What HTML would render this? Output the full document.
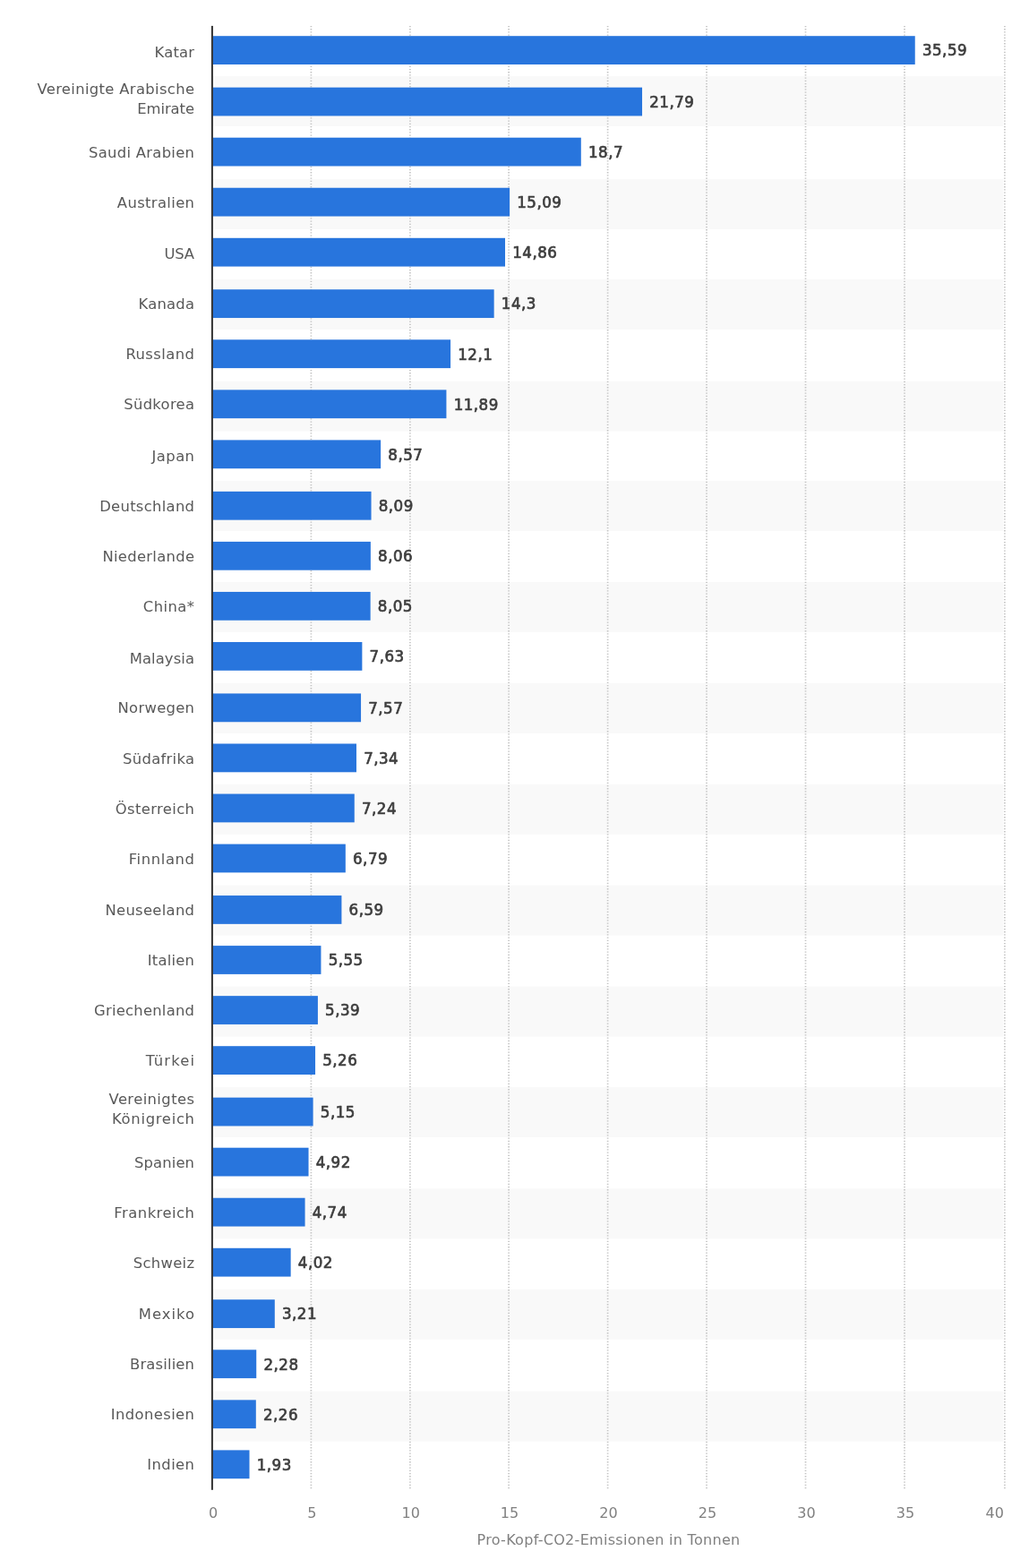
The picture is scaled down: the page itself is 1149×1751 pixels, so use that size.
<!DOCTYPE html>
<html lang="de">
<head>
<meta charset="utf-8">
<title>Pro-Kopf-CO2-Emissionen in Tonnen</title>
<style>
html,body{margin:0;padding:0;background:#fff;}
body{width:1149px;height:1751px;overflow:hidden;}
svg{display:block;position:absolute;left:0;top:0;}
.band{fill:#f9f9f9;}
.grid{stroke:#c4c4c4;stroke-width:1.7;stroke-dasharray:1.3 1.9;fill:none;}
.bar{fill:#2875dd;}
.axis{fill:#383838;}
.cat{font-family:"DejaVu Sans","Liberation Sans",sans-serif;font-size:16.4px;letter-spacing:0.3px;fill:#595959;text-anchor:end;}
.val{font-family:"DejaVu Sans Condensed","DejaVu Sans","Liberation Sans",sans-serif;font-size:18.5px;letter-spacing:0.5px;fill:#3e3e3e;stroke:#3e3e3e;stroke-width:0.7px;stroke-linejoin:round;text-anchor:start;}
.tick{font-family:"DejaVu Sans","Liberation Sans",sans-serif;font-size:16px;letter-spacing:0px;fill:#808080;text-anchor:middle;}
.title{font-family:"DejaVu Sans","Liberation Sans",sans-serif;font-size:16px;letter-spacing:0.29px;fill:#808080;text-anchor:middle;}
</style>
</head>
<body>
<svg width="1149" height="1751" viewBox="0 0 1149 1751">
<rect x="0" y="0" width="1149" height="1751" fill="#ffffff"/>
<g>
<rect class="band" x="238" y="85" width="882.3" height="56"/>
<rect class="band" x="238" y="200" width="882.3" height="56"/>
<rect class="band" x="238" y="312.1" width="882.3" height="56"/>
<rect class="band" x="238" y="425.6" width="882.3" height="56"/>
<rect class="band" x="238" y="537.1" width="882.3" height="56"/>
<rect class="band" x="238" y="650" width="882.3" height="56"/>
<rect class="band" x="238" y="762.9" width="882.3" height="56"/>
<rect class="band" x="238" y="875.8" width="882.3" height="56"/>
<rect class="band" x="238" y="988.7" width="882.3" height="56"/>
<rect class="band" x="238" y="1101.6" width="882.3" height="56"/>
<rect class="band" x="238" y="1214" width="882.3" height="56"/>
<rect class="band" x="238" y="1327.4" width="882.3" height="56"/>
<rect class="band" x="238" y="1439.7" width="882.3" height="56"/>
<rect class="band" x="238" y="1553.6" width="882.3" height="56"/>
</g>
<g>
<line class="grid" x1="347.4" y1="28.9" x2="347.4" y2="1662.4"/>
<line class="grid" x1="457.9" y1="28.9" x2="457.9" y2="1662.4"/>
<line class="grid" x1="568.1" y1="28.9" x2="568.1" y2="1662.4"/>
<line class="grid" x1="678.6" y1="28.9" x2="678.6" y2="1662.4"/>
<line class="grid" x1="789" y1="28.9" x2="789" y2="1662.4"/>
<line class="grid" x1="899.5" y1="28.9" x2="899.5" y2="1662.4"/>
<line class="grid" x1="1010" y1="28.9" x2="1010" y2="1662.4"/>
<line class="grid" x1="1121.9" y1="28.9" x2="1121.9" y2="1662.4"/>
</g>
<g>
<rect class="bar" x="237" y="40.2" width="784.73" height="31.8"/>
<rect class="bar" x="237" y="97.65" width="480.02" height="31.8"/>
<rect class="bar" x="237" y="153.7" width="411.8" height="31.8"/>
<rect class="bar" x="237" y="209.75" width="332.09" height="31.8"/>
<rect class="bar" x="237" y="265.8" width="327.01" height="31.8"/>
<rect class="bar" x="237" y="323.25" width="314.64" height="31.8"/>
<rect class="bar" x="237" y="379.3" width="266.07" height="31.8"/>
<rect class="bar" x="237" y="435.35" width="261.43" height="31.8"/>
<rect class="bar" x="237" y="491.4" width="188.13" height="31.8"/>
<rect class="bar" x="237" y="548.85" width="177.53" height="31.8"/>
<rect class="bar" x="237" y="604.9" width="176.86" height="31.8"/>
<rect class="bar" x="237" y="660.95" width="176.64" height="31.8"/>
<rect class="bar" x="237" y="717" width="167.37" height="31.8"/>
<rect class="bar" x="237" y="774.45" width="166.05" height="31.8"/>
<rect class="bar" x="237" y="830.5" width="160.97" height="31.8"/>
<rect class="bar" x="237" y="886.55" width="158.76" height="31.8"/>
<rect class="bar" x="237" y="942.6" width="148.82" height="31.8"/>
<rect class="bar" x="237" y="1000.05" width="144.41" height="31.8"/>
<rect class="bar" x="237" y="1056.1" width="121.44" height="31.8"/>
<rect class="bar" x="237" y="1112.15" width="117.91" height="31.8"/>
<rect class="bar" x="237" y="1168.2" width="115.04" height="31.8"/>
<rect class="bar" x="237" y="1225.65" width="112.61" height="31.8"/>
<rect class="bar" x="237" y="1281.7" width="107.53" height="31.8"/>
<rect class="bar" x="237" y="1337.75" width="103.56" height="31.8"/>
<rect class="bar" x="237" y="1393.8" width="87.66" height="31.8"/>
<rect class="bar" x="237" y="1451.25" width="69.78" height="31.8"/>
<rect class="bar" x="237" y="1507.3" width="49.24" height="31.8"/>
<rect class="bar" x="237" y="1563.35" width="48.8" height="31.8"/>
<rect class="bar" x="237" y="1619.4" width="41.51" height="31.8"/>
</g>
<rect class="axis" x="235.85" y="28.9" width="2.1" height="1634.9"/>
<g>
<text class="cat" x="217.18" y="63.7" style="letter-spacing:0.17px">Katar</text>
<text class="cat" x="217.34" y="105.35"><tspan x="217.34" y="105.35" style="letter-spacing:0.34px">Vereinigte Arabische</tspan><tspan x="216.93" y="127.45" style="letter-spacing:-0.07px"> Emirate</tspan></text>
<text class="cat" x="217.3" y="175.7">Saudi Arabien</text>
<text class="cat" x="217.36" y="231.75" style="letter-spacing:0.36px">Australien</text>
<text class="cat" x="216.75" y="289.3" style="letter-spacing:-0.25px">USA</text>
<text class="cat" x="217.2" y="345.25" style="letter-spacing:0.20px">Kanada</text>
<text class="cat" x="217.43" y="401.3" style="letter-spacing:0.43px">Russland</text>
<text class="cat" x="217.3" y="457.35">Südkorea</text>
<text class="cat" x="217.43" y="514.9" style="letter-spacing:0.42px">Japan</text>
<text class="cat" x="217.3" y="570.85">Deutschland</text>
<text class="cat" x="217.3" y="626.9">Niederlande</text>
<text class="cat" x="217.44" y="682.95" style="letter-spacing:0.44px">China*</text>
<text class="cat" x="217.1" y="740.5" style="letter-spacing:0.10px">Malaysia</text>
<text class="cat" x="217.3" y="796.45">Norwegen</text>
<text class="cat" x="217.3" y="852.5">Südafrika</text>
<text class="cat" x="217.38" y="908.55" style="letter-spacing:0.38px">Österreich</text>
<text class="cat" x="217.61" y="964.6" style="letter-spacing:0.61px">Finnland</text>
<text class="cat" x="217.3" y="1022.05">Neuseeland</text>
<text class="cat" x="217.22" y="1078.1" style="letter-spacing:0.22px">Italien</text>
<text class="cat" x="217.24" y="1134.15" style="letter-spacing:0.24px">Griechenland</text>
<text class="cat" x="218.14" y="1190.2" style="letter-spacing:1.14px">Türkei</text>
<text class="cat" x="217.4" y="1233.35"><tspan x="217.4" y="1233.35" style="letter-spacing:0.40px">Vereinigtes</tspan><tspan x="217.7" y="1255.45" style="letter-spacing:0.70px"> Königreich</tspan></text>
<text class="cat" x="217.13" y="1303.7" style="letter-spacing:0.13px">Spanien</text>
<text class="cat" x="217.49" y="1359.75" style="letter-spacing:0.49px">Frankreich</text>
<text class="cat" x="217.3" y="1415.8">Schweiz</text>
<text class="cat" x="218" y="1473.25" style="letter-spacing:1.00px">Mexiko</text>
<text class="cat" x="217.16" y="1529.3" style="letter-spacing:0.16px">Brasilien</text>
<text class="cat" x="217.4" y="1585.35" style="letter-spacing:0.40px">Indonesien</text>
<text class="cat" x="217.4" y="1641.4" style="letter-spacing:0.40px">Indien</text>
</g>
<g>
<text class="val" x="1029.93" y="62.4">35,59</text>
<text class="val" x="725.22" y="119.85">21,79</text>
<text class="val" x="657" y="175.9">18,7</text>
<text class="val" x="577.29" y="231.95">15,09</text>
<text class="val" x="572.21" y="288">14,86</text>
<text class="val" x="559.84" y="345.45">14,3</text>
<text class="val" x="511.27" y="401.5">12,1</text>
<text class="val" x="506.63" y="457.55">11,89</text>
<text class="val" x="433.33" y="513.6">8,57</text>
<text class="val" x="422.73" y="571.05">8,09</text>
<text class="val" x="422.06" y="627.1">8,06</text>
<text class="val" x="421.84" y="683.15">8,05</text>
<text class="val" x="412.57" y="739.2">7,63</text>
<text class="val" x="411.25" y="796.65">7,57</text>
<text class="val" x="406.17" y="852.7">7,34</text>
<text class="val" x="403.96" y="908.75">7,24</text>
<text class="val" x="394.02" y="964.8">6,79</text>
<text class="val" x="389.61" y="1022.25">6,59</text>
<text class="val" x="366.64" y="1078.3">5,55</text>
<text class="val" x="363.11" y="1134.35">5,39</text>
<text class="val" x="360.24" y="1190.4">5,26</text>
<text class="val" x="357.81" y="1247.85">5,15</text>
<text class="val" x="352.73" y="1303.9">4,92</text>
<text class="val" x="348.76" y="1359.95">4,74</text>
<text class="val" x="332.86" y="1416">4,02</text>
<text class="val" x="314.98" y="1473.45">3,21</text>
<text class="val" x="294.44" y="1529.5">2,28</text>
<text class="val" x="294" y="1585.55">2,26</text>
<text class="val" x="286.71" y="1641.6">1,93</text>
</g>
<g>
<text class="tick" x="238.2" y="1694.9">0</text>
<text class="tick" x="348.3" y="1694.9">5</text>
<text class="tick" x="458.8" y="1694.9">10</text>
<text class="tick" x="569" y="1694.9">15</text>
<text class="tick" x="679.5" y="1694.9">20</text>
<text class="tick" x="789.9" y="1694.9">25</text>
<text class="tick" x="900.4" y="1694.9">30</text>
<text class="tick" x="1010.9" y="1694.9">35</text>
<text class="tick" x="1110.8" y="1694.9">40</text>
</g>
<text class="title" x="679.5" y="1725">Pro-Kopf-CO2-Emissionen in Tonnen</text>
</svg>
</body>
</html>
